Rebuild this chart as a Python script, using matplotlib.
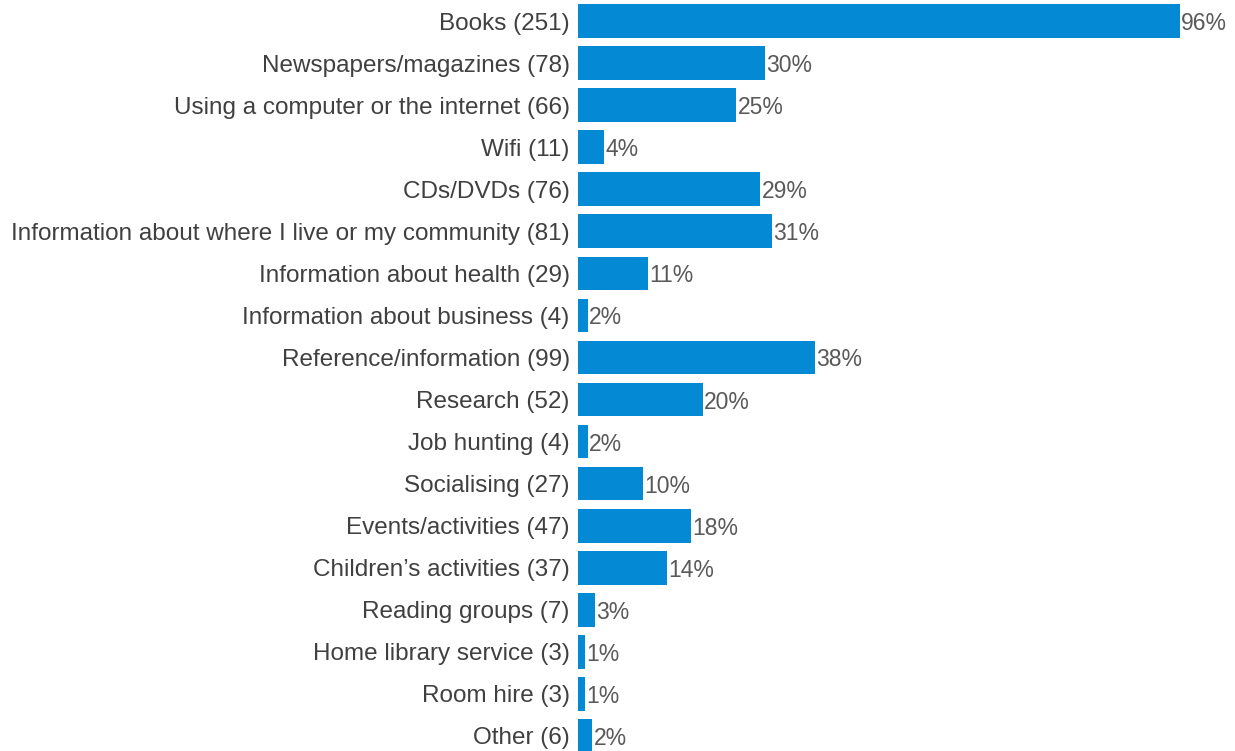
import matplotlib.pyplot as plt

categories = [
    "Books", "Newspapers/magazines", "Using a computer or the internet", "Wifi",
    "CDs/DVDs", "Information about where I live or my community",
    "Information about health", "Information about business",
    "Reference/information", "Research", "Job hunting", "Socialising",
    "Events/activities", "Children\u2019s activities", "Reading groups",
    "Home library service", "Room hire", "Other",
]
counts = [251, 78, 66, 11, 76, 81, 29, 4, 99, 52, 4, 27, 47, 37, 7, 3, 3, 6]
pct_labels = ["96%", "30%", "25%", "4%", "29%", "31%", "11%", "2%", "38%",
              "20%", "2%", "10%", "18%", "14%", "3%", "1%", "1%", "2%"]
base = 261  # respondents

values = [c / base * 100 for c in counts]
ylabels = [f"{c} ({n})" for c, n in zip(categories, counts)]

plt.rcParams['font.family'] = ['Liberation Sans', 'DejaVu Sans']

fig = plt.figure(figsize=(12.35, 7.51), dpi=100)
ax = fig.add_axes([578 / 1235, -6 / 751, 657 / 1235, 757 / 751])

y = list(range(len(categories)))
ax.barh(y, values, height=0.8, color='#0489d4')
for yi, v, lab in zip(y, values, pct_labels):
    ax.text(v + 0.2, yi, lab, va='center_baseline', ha='left', fontsize=16.5, color='#595959')

ax.set_yticks(y)
ax.set_yticklabels(ylabels, fontsize=17.5, color='#404040', va='center_baseline')
ax.tick_params(axis='y', length=0, pad=6)
ax.set_xticks([])
ax.set_xlim(0, 105)
ax.set_ylim(len(categories) - 0.5, -0.5)
for s in ax.spines.values():
    s.set_visible(False)

fig.savefig('out.png', dpi=100)
